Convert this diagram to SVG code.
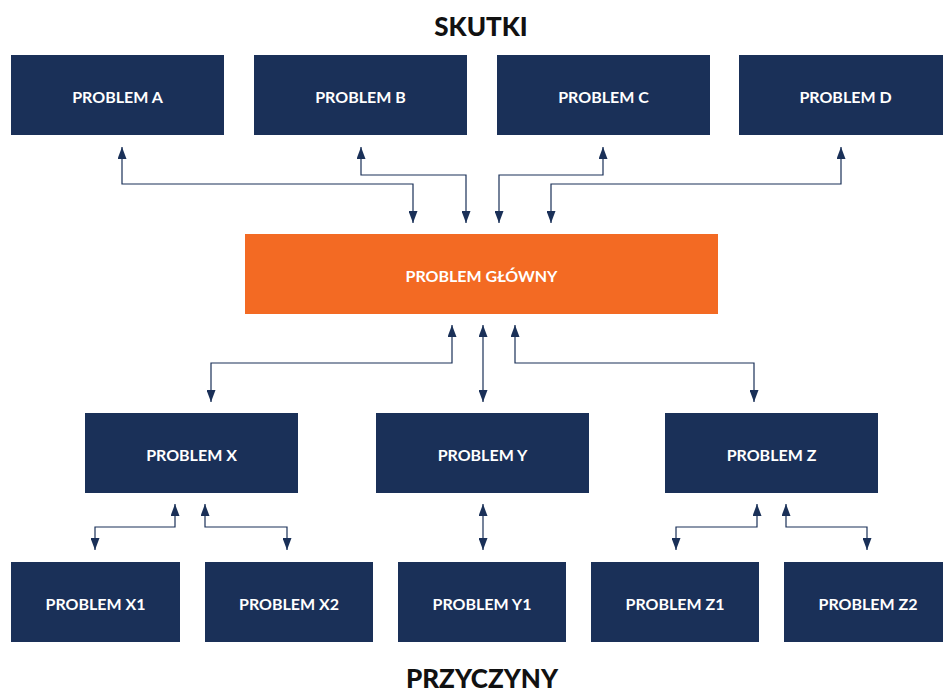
<svg xmlns="http://www.w3.org/2000/svg" width="943" height="693" viewBox="0 0 943 693">
<defs>
<marker id="ah" viewBox="0 0 12 9" refX="12" refY="4.5" markerWidth="12" markerHeight="9" markerUnits="userSpaceOnUse" orient="auto-start-reverse">
<path d="M0,0 L12,4.5 L0,9 z" fill="#1a3058"/>
</marker>
</defs>
<style>
.n{fill:#1a3058}
.o{fill:#f36a23}
.t{font-family:Lato,"Open Sans",sans-serif;font-weight:bold;font-size:16px;fill:#ffffff;text-anchor:middle;dominant-baseline:central}
.h{font-family:Lato,"Open Sans",sans-serif;font-weight:900;font-size:26px;fill:#111;text-anchor:middle}
.c{fill:none;stroke:#1a3058;stroke-width:1.2;marker-start:url(#ah);marker-end:url(#ah)}
</style>
<rect width="943" height="693" fill="#ffffff"/>
<text class="h" x="481" y="36">SKUTKI</text>
<text class="h" x="482" y="688">PRZYCZYNY</text>
<g id="connectors">
<path class="c" d="M122,147 V184 H413 V223"/>
<path class="c" d="M361,147 V175 H466 V223"/>
<path class="c" d="M603,147 V175 H499 V223"/>
<path class="c" d="M841,147 V184 H551 V223"/>
<path class="c" d="M452,325 V363 H211 V402"/>
<path class="c" d="M483,325 V402"/>
<path class="c" d="M515,325 V363 H754 V402"/>
<path class="c" d="M175,504 V527 H95 V550"/>
<path class="c" d="M205,504 V527 H287 V550"/>
<path class="c" d="M483,504 V550"/>
<path class="c" d="M757,504 V527 H676 V550"/>
<path class="c" d="M786,504 V527 H867 V550"/>
</g>
<g id="problem-a"><rect class="n" x="11" y="55" width="213" height="80"/><text class="t" x="117.5" y="96">PROBLEM A</text></g>
<g id="problem-b"><rect class="n" x="254" y="55" width="213" height="80"/><text class="t" x="360.5" y="96">PROBLEM B</text></g>
<g id="problem-c"><rect class="n" x="497" y="55" width="213" height="80"/><text class="t" x="603.5" y="96">PROBLEM C</text></g>
<g id="problem-d"><rect class="n" x="739" y="55" width="204" height="80"/><text class="t" x="845.5" y="96">PROBLEM D</text></g>
<g id="problem-glowny"><rect class="o" x="245" y="234" width="473" height="80"/><text class="t" x="481.5" y="275">PROBLEM GŁÓWNY</text></g>
<g id="problem-x"><rect class="n" x="85" y="413" width="213" height="80"/><text class="t" x="191.5" y="454">PROBLEM X</text></g>
<g id="problem-y"><rect class="n" x="376" y="413" width="213" height="80"/><text class="t" x="482.5" y="454">PROBLEM Y</text></g>
<g id="problem-z"><rect class="n" x="665" y="413" width="213" height="80"/><text class="t" x="771.5" y="454">PROBLEM Z</text></g>
<g id="problem-x1"><rect class="n" x="11" y="562" width="169" height="80"/><text class="t" x="95.5" y="603">PROBLEM X1</text></g>
<g id="problem-x2"><rect class="n" x="205" y="562" width="168" height="80"/><text class="t" x="289" y="603">PROBLEM X2</text></g>
<g id="problem-y1"><rect class="n" x="398" y="562" width="168" height="80"/><text class="t" x="482" y="603">PROBLEM Y1</text></g>
<g id="problem-z1"><rect class="n" x="591" y="562" width="168" height="80"/><text class="t" x="675" y="603">PROBLEM Z1</text></g>
<g id="problem-z2"><rect class="n" x="784" y="562" width="159" height="80"/><text class="t" x="868" y="603">PROBLEM Z2</text></g>
</svg>
